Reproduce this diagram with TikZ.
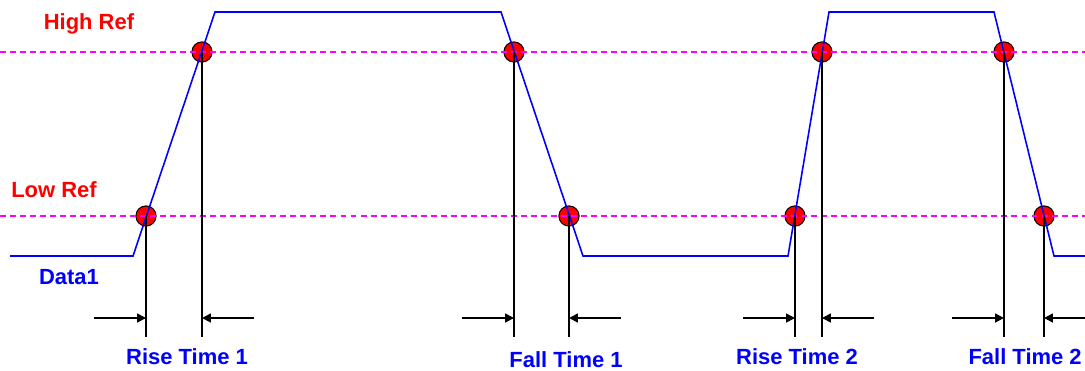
\documentclass[tikz,border=0pt]{standalone}
\usepackage{fontspec}
\setmainfont{Liberation Sans}
\usetikzlibrary{arrows.meta,calc}
\definecolor{wave}{RGB}{0,0,255}
\definecolor{refline}{RGB}{255,0,255}
\definecolor{marker}{RGB}{255,0,0}
\tikzset{
  signal/.style={wave,line width=0.9pt,line join=miter},
  refdash/.style={refline,line width=0.7pt,dash pattern=on 3.4pt off 2.3pt},
  tick/.style={black,line width=1pt},
  meas/.style={black,line width=1pt,-{Triangle[length=5pt,width=5pt]}},
  hit/.style={circle,draw=black,fill=marker,line width=0.6pt,minimum size=11.5pt,inner sep=0pt},
  reflabel/.style={text=marker,inner sep=0pt,font=\bfseries\fontsize{12.5}{14}\selectfont},
  timelabel/.style={text=wave,inner sep=0pt,font=\bfseries\fontsize{12.5}{14}\selectfont}
}

\begin{document}
\begin{tikzpicture}[x=0.02cm,y=-0.02cm]
  \useasboundingbox (0,0) rectangle (1085,370);
  \clip (0,0) rectangle (1085,370);
  % crossing points
  \foreach \n/\x/\y in {r1lo/146/216,r1hi/202/52,f1hi/514/52,f1lo/569/216,
                        r2lo/795/216,r2hi/822/52,f2hi/1004/52,f2lo/1044/216}
    {\node[hit] (\n) at (\x,\y) {};}
  % reference levels
  \coordinate (hiL) at (0,52);
  \coordinate (hiR) at (1085,52);
  \coordinate (loL) at (0,216);
  \coordinate (loR) at (1085,216);
  \draw[refdash] (hiL) -- (hiR);
  \draw[refdash] (loL) -- (loR);
  % trace
  \coordinate (t0) at (10,256);
  \coordinate (t1) at (133,256);
  \coordinate (t2) at (215,12);
  \coordinate (t3) at (501,12);
  \coordinate (t4) at (583,256);
  \coordinate (t5) at (788,256);
  \coordinate (t6) at (829,12);
  \coordinate (t7) at (994,12);
  \coordinate (t8) at (1054,256);
  \coordinate (t9) at (1085,256);
  \draw[signal] (t0) -- (t1) -- (t2) -- (t3) -- (t4) -- (t5) -- (t6) -- (t7) -- (t8) -- (t9);
  % measurement marks
  \coordinate (base) at (0,337);
  \coordinate (arr) at (0,318);
  \foreach \a/\b in {r1lo/r1hi,f1hi/f1lo,r2lo/r2hi,f2hi/f2lo}{
    \draw[tick] (\a.center) -- (\a.center |- base);
    \draw[tick] (\b.center) -- (\b.center |- base);
    \draw[meas] ($(\a.center |- arr)+(-52,0)$) -- (\a.center |- arr);
    \draw[meas] ($(\b.center |- arr)+(52,0)$) -- (\b.center |- arr);
  }
  % labels
  \node[reflabel] (hilab) at (89,24) {High Ref};
  \node[reflabel] (lolab) at (54,190) {Low Ref};
  \node[timelabel] (datalab) at (69,277) {Data1};
  \node[timelabel] (rt1) at (187,357) {Rise Time 1};
  \node[timelabel] (ft1) at (566,360) {Fall Time 1};
  \node[timelabel] (rt2) at (797,357) {Rise Time 2};
  \node[timelabel,anchor=east] (ft2) at (1082,357) {Fall Time 2};
\end{tikzpicture}
\end{document}
